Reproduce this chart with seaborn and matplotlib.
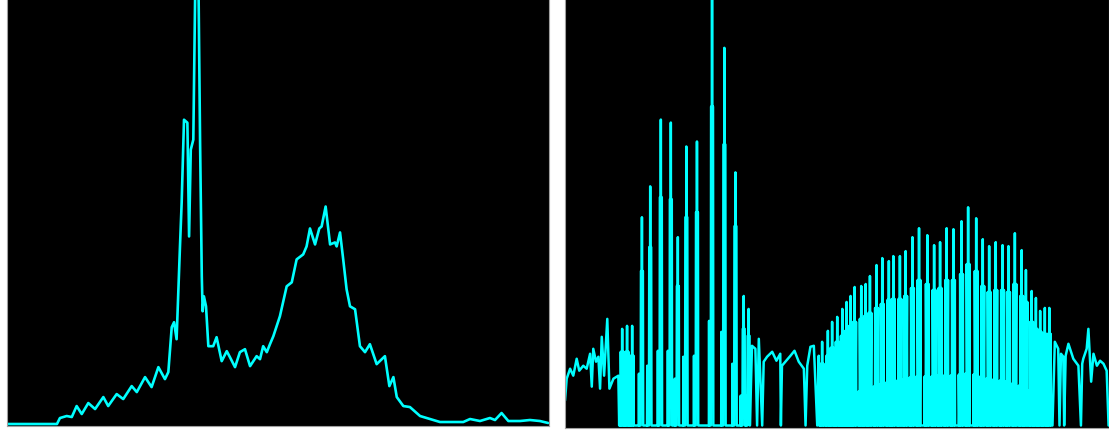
import pandas as pd
import seaborn as sns
import matplotlib
matplotlib.use("Agg")
import matplotlib.pyplot as plt

# ---- left panel: original histogram (bin, count)
left_bins = [0, 23.6, 25.0, 28.2, 30.6, 32.9, 35.3, 38.4, 41.6, 45.5, 47.8, 51.8, 54.9,
             58.9, 61.3, 65.2, 68.3, 71.5, 74.6, 76.2, 77.8, 78.9, 80.1, 81.7, 82.5,
             83.6, 85.2, 86.0, 86.8, 88.0, 89.1, 90.4, 91.2, 92.0, 92.4, 93.0, 94.0,
             95.1, 97.4, 99.0, 101.4, 103.8, 105.3, 107.7, 110.0, 112.4, 114.8, 117.9,
             119.5, 121.0, 122.7, 124.2, 125.8, 128.9, 132.1, 134.5, 136.8, 139.9,
             141.5, 143.1, 145.5, 147.5, 148.6, 150.5, 152.6, 154.9, 155.7, 157.3,
             158.8, 160.4, 162.0, 164.4, 166.7, 169.1, 171.4, 174.6, 178.5, 180.6,
             182.5, 184.1, 187.2, 190.3, 195.1, 204.5, 215.5, 218.7, 223.4, 228.1,
             230.5, 233.6, 236.8, 242.3, 247.0, 251.7, 255.6]
left_counts = [0, 0, 6, 8, 7, 18, 10, 21, 15, 27, 18, 30, 25,
               38, 32, 47, 37, 57, 45, 52, 97, 102, 85, 178, 222,
               305, 302, 188, 275, 285, 470, 450, 282, 148, 113, 128, 118,
               78, 78, 87, 63, 73, 67, 57, 72, 75, 58, 68,
               65, 78, 72, 80, 88, 108, 138, 142, 165, 170,
               178, 196, 180, 196, 198, 218, 180, 182, 178, 192,
               165, 135, 118, 115, 78, 72, 80, 60, 68, 38,
               47, 27, 18, 17, 8, 2, 2, 5, 3, 6,
               4, 11, 3, 3, 4, 3, 1]

# ---- right panel: processed histogram
# smooth low end
ra_bins = [0, 0.8, 2.4, 3.9, 5.5, 6.7, 8.6, 10.2, 11.8, 12.6, 13.3, 14.6, 15.7,
           16.5, 17.3, 18.4, 19.9, 20.9, 22.8, 25.1]
ra_counts = [25, 47, 57, 50, 67, 55, 60, 57, 72, 39, 77, 64, 69,
             37, 89, 50, 107, 37, 47, 50]

# small packed cluster right after it (bin, peak, shoulder, low side line)
comb0_pos = [26.9, 29.2, 31.6]
comb0_peak = [97, 100, 100]
comb0_mid = [74, 74, 70]
comb0_low = [24, 24, 24]

# first comb of tall spikes
comb1_pos = [36.2, 40.1, 45.1, 49.8, 53.1, 57.1, 62.1, 69.2,
             75.0, 80.2, 84.1, 86.4]
comb1_peak = [209, 240, 307, 304, 189, 280, 285, 470, 379, 254, 130, 117]
comb1_mid = [155, 179, 229, 227, 140, 209, 214, 320, 282, 200, 97, 90]
comb1_low = [52, 60, 75, 75, 47, 69, 70, 105, 94, 62, 30, 30]

# middle stretch
rc_bins = [88.0, 89.6, 90.4, 91.2, 92.8, 93.5, 95.1, 97.5, 99.5, 101.3, 101.6, 102.1,
           103.7, 106.1, 108.0, 110.0, 112.4, 113.2, 114.0, 115.5, 117.1, 118.7, 119.4]
rc_counts = [80, 77, 0, 87, 0, 64, 69, 74, 65, 72, 0, 60,
             64, 70, 75, 64, 57, 0, 60, 79, 80, 0, 70]

# second (dense) comb
comb2_pos = [121.0, 123.7, 125.7, 128.1, 130.5, 132.5, 134.4, 136.3, 139.4, 141.5,
             143.5, 146.6, 149.3, 152.4, 154.5, 157.6, 160.3, 163.5, 166.6, 170.5,
             173.7, 176.5, 179.6, 182.8, 186.6, 189.7, 193.5, 196.6, 199.6, 202.7,
             205.9, 208.7, 211.7, 214.9, 216.9, 219.6, 221.6, 223.6, 225.8, 227.9]
comb2_peak = [84, 95, 104, 109, 117, 124, 130, 139, 140, 142,
              150, 161, 168, 165, 170, 170, 175, 189, 198, 191,
              181, 184, 198, 197, 205, 219, 208, 187, 180, 184,
              181, 180, 193, 176, 156, 135, 128, 115, 118, 118]
comb2_mid = [62, 70, 78, 84, 90, 95, 100, 104, 107, 110,
             113, 118, 122, 126, 127, 127, 130, 138, 146, 142,
             136, 138, 146, 146, 152, 162, 155, 140, 134, 136,
             136, 134, 142, 130, 124, 104, 97, 94, 92, 92]
comb2_low = [25, 25, 26, 27, 28, 29, 30, 32, 34, 36,
             37, 39, 41, 43, 44, 45, 46, 48, 49, 49,
             49, 50, 50, 50, 51, 52, 51, 49, 47, 46,
             45, 44, 42, 40, 38, 35, 32, 30, 30, 30]

# high end
re_bins = [229.4, 230.5, 232.1, 232.7, 233.4, 234.5, 234.9, 235.6, 236.9, 239.2,
           241.6, 242.8, 243.4, 243.9, 245.5, 246.3, 247.6, 248.7, 250.3, 251.8,
           253.4, 254.9, 255.8]
re_counts = [0, 84, 77, 0, 72, 69, 0, 70, 82, 67,
             60, 0, 62, 67, 77, 97, 44, 72, 60, 65,
             62, 55, 0]

# shape of one comb tooth: (offset in bins, level)
TOOTH_NARROW = [(-1.5, "zero"), (-1.4, "low"), (-1.3, "zero"), (-0.6, "zero"),
                (-0.45, "mid"), (-0.05, "mid"), (0.0, "peak"), (0.05, "mid"),
                (0.45, "mid"), (0.6, "zero")]
TOOTH_WIDE = [(-1.4, "zero"), (-1.3, "low"), (-1.0, "zero"), (-0.9, "low"),
              (-0.75, "zero"), (-0.65, "mid"), (-0.3, "zero"), (-0.05, "mid"),
              (0.0, "peak"), (0.05, "mid"), (0.3, "zero"), (0.65, "mid"),
              (0.75, "zero")]


def comb_path(pos, peak, mid, low, shape):
    xs, ys = [], []
    for c, p, m, l in zip(pos, peak, mid, low):
        lv = {"zero": 0, "low": l, "mid": m, "peak": p}
        for dx, key in shape:
            xs.append(c + dx)
            ys.append(lv[key])
    return xs, ys


c0x, c0y = comb_path(comb0_pos, comb0_peak, comb0_mid, comb0_low, TOOTH_WIDE)
c1x, c1y = comb_path(comb1_pos, comb1_peak, comb1_mid, comb1_low, TOOTH_NARROW)
c2x, c2y = comb_path(comb2_pos, comb2_peak, comb2_mid, comb2_low, TOOTH_WIDE)
right_x = ra_bins + c0x + c1x + rc_bins + c2x + re_bins
right_y = ra_counts + c0y + c1y + rc_counts + c2y + re_counts

df_left = pd.DataFrame({"bin": left_bins, "count": left_counts})
df_right = pd.DataFrame({"bin": right_x, "count": right_y})

sns.set_style("white")
plt.rcParams["path.simplify"] = False

fig = plt.figure(figsize=(11.09, 4.32), dpi=100)
fig.patch.set_facecolor("white")
ax1 = fig.add_axes([7 / 1109, 6 / 432, 542 / 1109, 426 / 432])
ax2 = fig.add_axes([565 / 1109, 4.5 / 432, 544 / 1109, 427.5 / 432])

sns.lineplot(data=df_left, x="bin", y="count", ax=ax1, sort=False, estimator=None,
             color="#00ffff", linewidth=1.9)
sns.lineplot(data=df_right, x="bin", y="count", ax=ax2, sort=False, estimator=None,
             color="#00ffff", linewidth=1.8)

for ax, top in ((ax1, 425), (ax2, 427)):
    ax.set_facecolor("black")
    ax.set_xlim(0, 256)
    ax.set_ylim(-2, top)
    ax.set_xticks([])
    ax.set_yticks([])
    ax.set_xlabel("")
    ax.set_ylabel("")
    for side, sp in ax.spines.items():
        sp.set_color("#a0a0a0")
        sp.set_linewidth(0.8)
    ax.spines["top"].set_visible(False)

plt.savefig("out.png", dpi=100)
